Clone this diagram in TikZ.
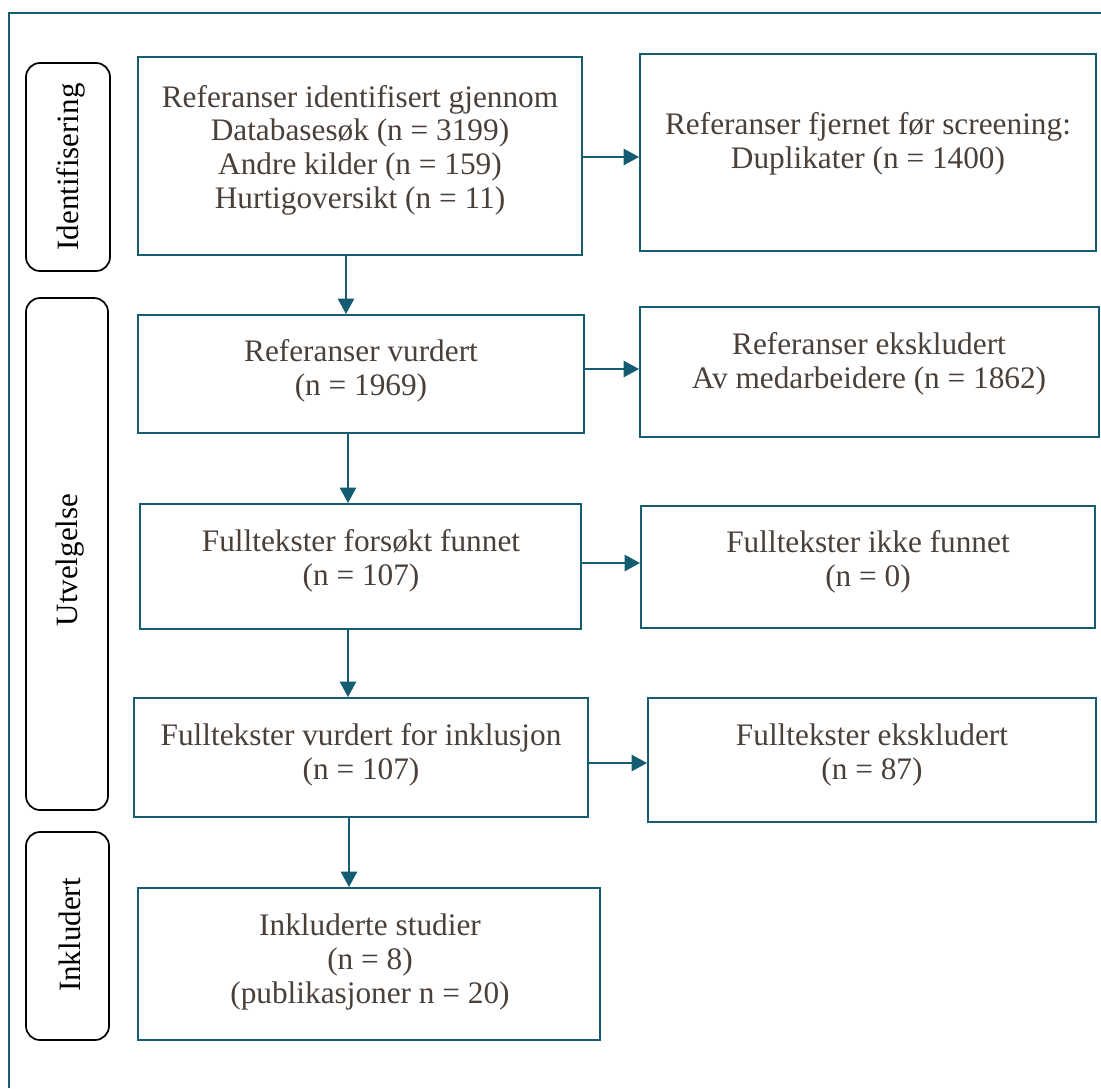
\documentclass[tikz,border=0pt]{standalone}
\usepackage{fontspec}
\setmainfont{Liberation Serif}
\usetikzlibrary{arrows.meta}
\definecolor{tealc}{HTML}{135C72}
\definecolor{tc}{HTML}{4A403A}
\newcommand\fsz{\fontsize{31.3}{33.6}\selectfont}
\newcommand\sfsz{\fontsize{31}{33}\selectfont}
\begin{document}
\begin{tikzpicture}[x=1pt,y=-1pt,
  box/.style={draw=tealc, line width=2pt, inner sep=0pt},
  txt/.style={text=tc, align=center, font=\fsz, inner sep=0pt},
  side/.style={draw=black, line width=1.7pt, rounded corners=14pt, inner sep=0pt},
  sidetxt/.style={text=black, font=\sfsz, rotate=90, inner sep=0pt},
  arr/.style={draw=tealc, line width=1.6pt, -{Triangle[length=15.5pt,width=16.5pt]}},
  frame/.style={draw=tealc, line width=1.6pt}]
\useasboundingbox (0,0) rectangle (1101,1088);
\draw[frame] (9,1088) -- (9,13) -- (1101,13);

% side labels
\node[side, minimum width=84pt, minimum height=208pt] (s1) at (68,167) {};
\node[sidetxt] (s1t) at (71,167) {Identifisering};
\node[side, minimum width=82pt, minimum height=512pt] (s2) at (67,554) {};
\node[sidetxt] (s2t) at (70,560) {Utvelgelse};
\node[side, minimum width=83pt, minimum height=208pt] (s3) at (67.5,936) {};
\node[sidetxt] (s3t) at (70,935) {Inkludert};

% left boxes
\node[box, minimum width=444pt, minimum height=198pt] (b1) at (360,156) {};
\node[txt] (t1) at (360,150) {Referanser identifisert gjennom\\Databasesøk (n = 3199)\\Andre kilder (n = 159)\\Hurtigoversikt (n = 11)};
\node[box, minimum width=446pt, minimum height=118pt] (b2) at (361,374) {};
\node[txt] (t2) at (361,371) {Referanser vurdert\\(n = 1969)};
\node[box, minimum width=441pt, minimum height=125pt] (b3) at (360.5,566.5) {};
\node[txt] (t3) at (361,561) {Fulltekster forsøkt funnet\\(n = 107)};
\node[box, minimum width=454pt, minimum height=119pt] (b4) at (361,757.5) {};
\node[txt] (t4) at (361,755) {Fulltekster vurdert for inklusjon\\(n = 107)};
\node[box, minimum width=462pt, minimum height=152pt] (b5) at (369,964) {};
\node[txt] (t5) at (370,962) {Inkluderte studier\\(n = 8)\\(publikasjoner n = 20)};

% right boxes
\node[box, minimum width=456pt, minimum height=197pt] (r1) at (868,152.5) {};
\node[txt] (u1) at (868,144) {Referanser fjernet før screening:\\Duplikater (n = 1400)};
\node[box, minimum width=459pt, minimum height=130pt] (r2) at (869.5,372) {};
\node[txt] (u2) at (869,364) {Referanser ekskludert\\Av medarbeidere (n = 1862)};
\node[box, minimum width=454pt, minimum height=122pt] (r3) at (868,567) {};
\node[txt] (u3) at (868,562) {Fulltekster ikke funnet\\(n = 0)};
\node[box, minimum width=448pt, minimum height=124pt] (r4) at (872,760) {};
\node[txt] (u4) at (872,755) {Fulltekster ekskludert\\(n = 87)};

% vertical arrows
\draw[arr] (b1.south -| 346,0) -- (b2.north -| 346,0);
\draw[arr] (b2.south -| 348,0) -- (b3.north -| 348,0);
\draw[arr] (b3.south -| 348,0) -- (b4.north -| 348,0);
\draw[arr] (b4.south -| 349,0) -- (b5.north -| 349,0);

% horizontal arrows
\draw[arr] (b1.east |- 0,157) -- (r1.west |- 0,157);
\draw[arr] (b2.east |- 0,369) -- (r2.west |- 0,369);
\draw[arr] (b3.east |- 0,563) -- (r3.west |- 0,563);
\draw[arr] (b4.east |- 0,763) -- (r4.west |- 0,763);
\end{tikzpicture}
\end{document}
